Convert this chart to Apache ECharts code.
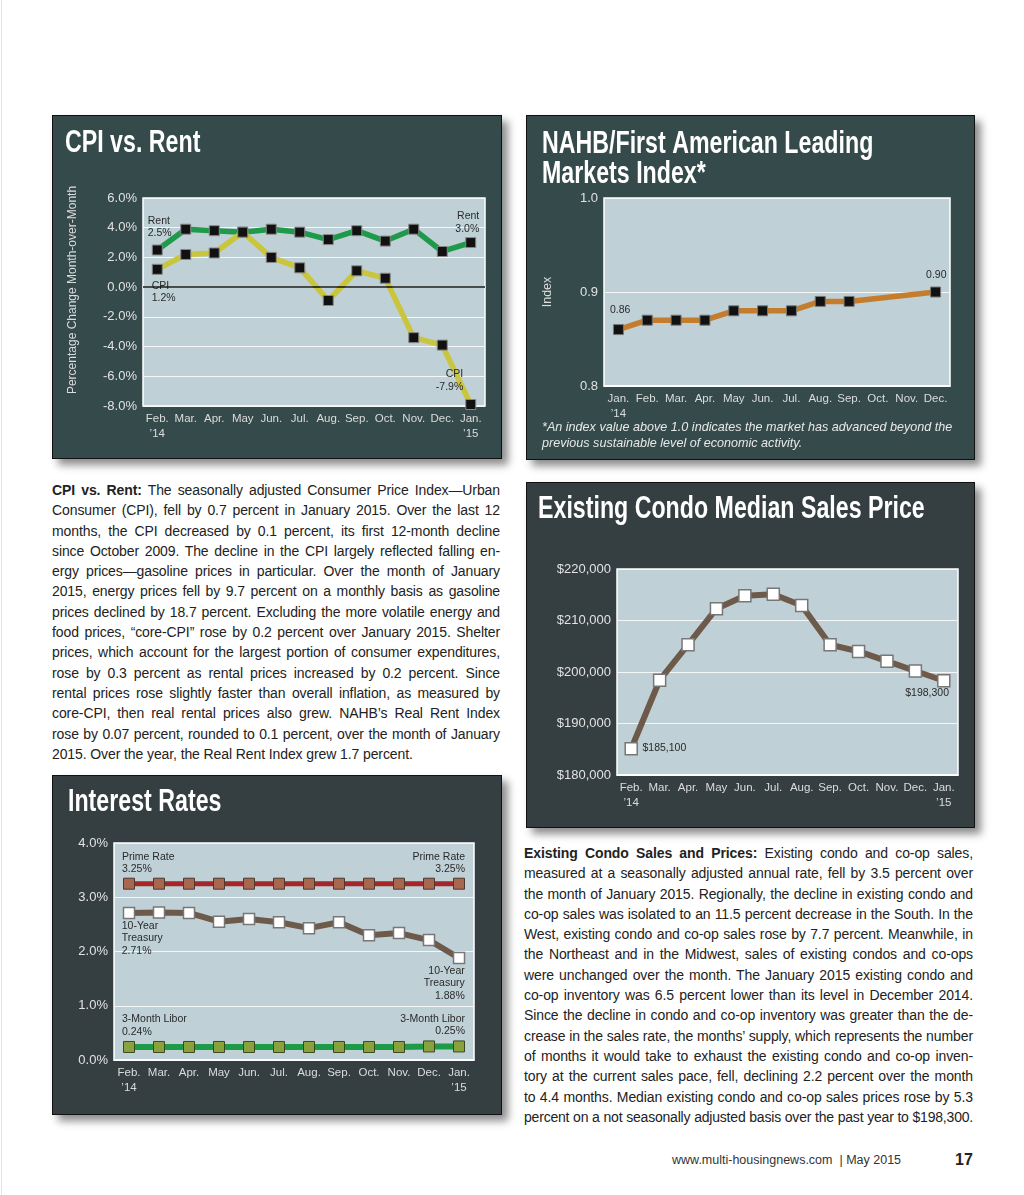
<!DOCTYPE html>
<html><head><meta charset="utf-8">
<script src="https://cdn.jsdelivr.net/npm/echarts@6/dist/echarts.min.js"></script>
<style>
html,body{margin:0;padding:0;background:#fff;}
body{width:1024px;height:1195px;position:relative;overflow:hidden;font-family:"Liberation Sans",Arial,sans-serif;}
.edge{position:absolute;left:1px;top:0;width:1px;height:1195px;background:#e4e4e4;}
.panel{position:absolute;border:1px solid #111;box-shadow:6px 6px 8px rgba(0,0,0,0.45);}
.para{position:absolute;font-size:14px;color:#222;letter-spacing:-0.1px;}
.para div{height:20.3px;line-height:20.3px;text-align:justify;text-align-last:justify;white-space:nowrap;overflow:visible;}
.para div.last{text-align-last:left;}
.foot{position:absolute;top:1153px;left:672px;font-size:12.5px;color:#333;}
.pg{position:absolute;top:1151px;left:955px;font-size:16px;font-weight:bold;color:#222;}
</style></head>
<body>
<div class="edge"></div>
<div id="c1" class="panel" style="left:52px;top:115px;width:448px;height:342px;"></div>
<div id="c2" class="panel" style="left:526px;top:115px;width:447px;height:343px;"></div>
<div id="c3" class="panel" style="left:526px;top:482px;width:447px;height:344px;"></div>
<div id="c4" class="panel" style="left:52px;top:775px;width:448px;height:338px;"></div>

<div class="para" style="left:52px;top:480px;width:448px;">
<div><b>CPI vs. Rent:</b> The seasonally adjusted Consumer Price Index—Urban</div>
<div>Consumer (CPI), fell by 0.7 percent in January 2015. Over the last 12</div>
<div>months, the CPI decreased by 0.1 percent, its first 12-month decline</div>
<div>since October 2009. The decline in the CPI largely reflected falling en-</div>
<div>ergy prices—gasoline prices in particular. Over the month of January</div>
<div>2015, energy prices fell by 9.7 percent on a monthly basis as gasoline</div>
<div>prices declined by 18.7 percent. Excluding the more volatile energy and</div>
<div>food prices, “core-CPI” rose by 0.2 percent over January 2015. Shelter</div>
<div>prices, which account for the largest portion of consumer expenditures,</div>
<div>rose by 0.3 percent as rental prices increased by 0.2 percent. Since</div>
<div>rental prices rose slightly faster than overall inflation, as measured by</div>
<div>core-CPI, then real rental prices also grew. NAHB’s Real Rent Index</div>
<div>rose by 0.07 percent, rounded to 0.1 percent, over the month of January</div>
<div class="last">2015. Over the year, the Real Rent Index grew 1.7 percent.</div>
</div>

<div class="para" style="left:524px;top:843px;width:449px;">
<div><b>Existing Condo Sales and Prices:</b> Existing condo and co-op sales,</div>
<div>measured at a seasonally adjusted annual rate, fell by 3.5 percent over</div>
<div>the month of January 2015. Regionally, the decline in existing condo and</div>
<div>co-op sales was isolated to an 11.5 percent decrease in the South. In the</div>
<div>West, existing condo and co-op sales rose by 7.7 percent. Meanwhile, in</div>
<div>the Northeast and in the Midwest, sales of existing condos and co-ops</div>
<div>were unchanged over the month. The January 2015 existing condo and</div>
<div>co-op inventory was 6.5 percent lower than its level in December 2014.</div>
<div>Since the decline in condo and co-op inventory was greater than the de-</div>
<div>crease in the sales rate, the months’ supply, which represents the number</div>
<div>of months it would take to exhaust the existing condo and co-op inven-</div>
<div>tory at the current sales pace, fell, declining 2.2 percent over the month</div>
<div>to 4.4 months. Median existing condo and co-op sales prices rose by 5.3</div>
<div>percent on a not seasonally adjusted basis over the past year to $198,300.</div>
</div>

<div class="foot">www.multi-housingnews.com &nbsp;| May 2015</div>
<div class="pg">17</div>

<script>
// ---------- data ----------
var monthsFebJan = ['Feb.\n’14','Mar.','Apr.','May','Jun.','Jul.','Aug.','Sep.','Oct.','Nov.','Dec.','Jan.\n’15'];
var monthsJanDec = ['Jan.\n’14','Feb.','Mar.','Apr.','May','Jun.','Jul.','Aug.','Sep.','Oct.','Nov.','Dec.'];

var cpiValues  = [1.2, 2.2, 2.3, 3.7, 2.0, 1.3, -0.9, 1.1, 0.6, -3.4, -3.9, -7.9];
var rentValues = [2.5, 3.9, 3.8, 3.7, 3.9, 3.7, 3.2, 3.8, 3.1, 3.9, 2.4, 3.0];
var cpiTicks = [-8, 6, 2];

var lmiValues = [0.86, 0.87, 0.87, 0.87, 0.88, 0.88, 0.88, 0.89, 0.89, null, null, 0.90];
var lmiTicks = [0.8, 1.0, 0.1];

var condoValues = [185100, 198400, 205300, 212300, 214800, 215100, 212900, 205300, 204000, 202100, 200200, 198300];
var condoTicks = [180000, 220000, 10000];

var primeValues = [3.25, 3.25, 3.25, 3.25, 3.25, 3.25, 3.25, 3.25, 3.25, 3.25, 3.25, 3.25];
var treasuryValues = [2.71, 2.72, 2.71, 2.55, 2.60, 2.54, 2.43, 2.54, 2.30, 2.34, 2.21, 1.88];
var liborValues = [0.24, 0.24, 0.24, 0.24, 0.24, 0.24, 0.24, 0.24, 0.24, 0.24, 0.25, 0.25];
var rateTicks = [0, 4, 1];

// ---------- keep justified lines inside their column ----------
document.querySelectorAll('.para div').forEach(function(el){
  var ls = -0.1, guard = 0;
  while (el.scrollWidth > el.clientWidth + 0.5 && guard < 20) {
    ls -= 0.05; el.style.letterSpacing = ls + 'px'; guard++;
  }
});

// ---------- shared styling ----------
var BASE_FONT = '"Liberation Sans",Arial,sans-serif';
var PANEL_A = '#354a4a', PANEL_B = '#353f42', PLOT_BG = '#bfd0d7';

function xAxisCfg(cats){
  return {type:'category', data:cats, boundaryGap:true,
    axisLine:{lineStyle:{color:'#fff',width:1.5}},
    axisTick:{inside:true,length:5,lineStyle:{color:'#fff',width:1.5}},
    axisLabel:{color:'#dcdcdc',fontSize:11.5,fontFamily:BASE_FONT,margin:5,lineHeight:15,interval:0}};
}
function yAxisCfg(t, fmt, extra){
  var o = {type:'value', min:t[0], max:t[1], interval:t[2],
    axisLine:{show:false}, axisTick:{show:false},
    splitLine:{lineStyle:{color:'#f4f6f7',width:1}},
    axisLabel:{color:'#e2e2e2',fontSize:13,fontFamily:BASE_FONT,margin:6,formatter:fmt}};
  for (var k in extra) o[k] = extra[k];
  return o;
}
function gridCfg(l,r,t,b){
  return {left:l,right:r,top:t,bottom:b,show:true,backgroundColor:PLOT_BG,borderColor:'#fff',borderWidth:1.5};
}
// condensed bold title (horizontally compressed Liberation Sans Bold)
function titleGraphic(text, left, top){
  return {type:'text', x:left, y:top, scaleX:0.725, scaleY:1, z:10,
    style:{text:text, fill:'#fff', font:'bold 32px "Liberation Sans",Arial,sans-serif', lineHeight:30, verticalAlign:'top'}};
}
function ann(text, pos, align){
  return {show:true, formatter:text, position:pos, align:align, verticalAlign:'top',
    color:'#2a2a2a', fontSize:10.5, fontFamily:BASE_FONT, lineHeight:12.5};
}
function withLabels(values, labelMap){
  return values.map(function(v,i){
    return labelMap[i] ? {value:v, label:labelMap[i]} : v;
  });
}
var yNameStyle = {color:'#dcdcdc',fontSize:12.5,fontFamily:BASE_FONT};

// ---------- Chart 1: CPI vs Rent ----------
var c1 = echarts.init(document.getElementById('c1'));
c1.setOption({
  backgroundColor:PANEL_A, animation:false,
  graphic:[titleGraphic('CPI vs. Rent', 12, 12)],
  grid:gridCfg(90,16,82,52),
  xAxis:xAxisCfg(monthsFebJan),
  yAxis:yAxisCfg(cpiTicks, function(v){return v.toFixed(1)+'%';},
    {name:'Percentage Change Month-over-Month', nameLocation:'middle', nameGap:64,
     nameTextStyle:{color:'#dcdcdc',fontSize:12,fontFamily:BASE_FONT,padding:[0,0,0,24]}}),
  series:[
    {name:'CPI', type:'line', data:withLabels(cpiValues,{0:ann('CPI\n1.2%',[0,16],'left'),11:ann('CPI\n-7.9%',[-2,-31],'right')}),
     lineStyle:{color:'#c9c53d',width:5.5}, symbol:'rect', symbolSize:10,
     itemStyle:{color:'#111',borderColor:'#888',borderWidth:1}, z:3,
     markLine:{silent:true,symbol:'none',label:{show:false},lineStyle:{color:'#111',width:1.5,type:'solid'},data:[{yAxis:0}]}},
    {name:'Rent', type:'line', data:withLabels(rentValues,{0:ann('Rent\n2.5%',[-4,-30],'left'),11:ann('Rent\n3.0%',[14,-27],'right')}),
     lineStyle:{color:'#1f9a4b',width:5.5}, symbol:'rect', symbolSize:10,
     itemStyle:{color:'#111',borderColor:'#888',borderWidth:1}, z:2}
  ]
});

// ---------- Chart 2: NAHB LMI ----------
var c2 = echarts.init(document.getElementById('c2'));
c2.setOption({
  backgroundColor:PANEL_A, animation:false,
  grid:gridCfg(77,24,82,73),
  xAxis:xAxisCfg(monthsJanDec),
  yAxis:yAxisCfg(lmiTicks, function(v){return v.toFixed(1);},
    {name:'Index', nameLocation:'middle', nameGap:50, nameTextStyle:yNameStyle}),
  graphic:[titleGraphic('NAHB/First American Leading\nMarkets Index*', 15, 13),
    {type:'text',left:15,top:303,style:{
    text:'*An index value above 1.0 indicates the market has advanced beyond the\nprevious sustainable level of economic activity.',
    fill:'#e8e8e8',font:'italic 12.6px '+BASE_FONT,lineHeight:16}}],
  series:[
    {type:'line', connectNulls:true,
     data:withLabels(lmiValues,{0:ann('0.86',[-3,-20],'left'),11:ann('0.90',[-4,-18],'left')}),
     lineStyle:{color:'#c47d2d',width:5.5}, symbol:'rect', symbolSize:10,
     itemStyle:{color:'#111',borderColor:'#777',borderWidth:1}}
  ]
});

// ---------- Chart 3: Condo price ----------
var c3 = echarts.init(document.getElementById('c3'));
c3.setOption({
  backgroundColor:PANEL_B, animation:false,
  graphic:[titleGraphic('Existing Condo Median Sales Price', 11, 11)],
  grid:gridCfg(90,16,86,52),
  xAxis:xAxisCfg(monthsFebJan),
  yAxis:yAxisCfg(condoTicks, function(v){return '$'+v.toLocaleString('en-US');}, {}),
  series:[
    {type:'line',
     data:withLabels(condoValues,{0:ann('$185,100',[18,0],'left'),11:ann('$198,300',[12,13],'right')}),
     lineStyle:{color:'#6e5a4b',width:6}, symbol:'rect', symbolSize:12,
     itemStyle:{color:'#fff',borderColor:'#777',borderWidth:1.5}}
  ]
});

// ---------- Chart 4: Interest rates ----------
var c4 = echarts.init(document.getElementById('c4'));
c4.setOption({
  backgroundColor:PANEL_B, animation:false,
  graphic:[titleGraphic('Interest Rates', 15, 11)],
  grid:gridCfg(61,27,67,54),
  xAxis:xAxisCfg(monthsFebJan),
  yAxis:yAxisCfg(rateTicks, function(v){return v.toFixed(1)+'%';}, {}),
  series:[
    {name:'Prime Rate', type:'line',
     data:withLabels(primeValues,{0:ann('Prime Rate\n3.25%',[-1,-27],'left'),11:ann('Prime Rate\n3.25%',[12,-27],'right')}),
     lineStyle:{color:'#a3282a',width:5}, symbol:'rect', symbolSize:11,
     itemStyle:{color:'#a8684f',borderColor:'#4a3a30',borderWidth:1}},
    {name:'10-Year Treasury', type:'line',
     data:withLabels(treasuryValues,{0:ann('10-Year\nTreasury\n2.71%',[-1,13],'left'),11:ann('10-Year\nTreasury\n1.88%',[12,13],'right')}),
     lineStyle:{color:'#6e5a4b',width:6}, symbol:'rect', symbolSize:11,
     itemStyle:{color:'#fff',borderColor:'#777',borderWidth:1.5}},
    {name:'3-Month Libor', type:'line',
     data:withLabels(liborValues,{0:ann('3-Month Libor\n0.24%',[-1,-28],'left'),11:ann('3-Month Libor\n0.25%',[12,-28],'right')}),
     lineStyle:{color:'#1f9a46',width:6}, symbol:'rect', symbolSize:11,
     itemStyle:{color:'#8aa23e',borderColor:'#3a4a20',borderWidth:1}}
  ]
});
</script>
</body></html>
